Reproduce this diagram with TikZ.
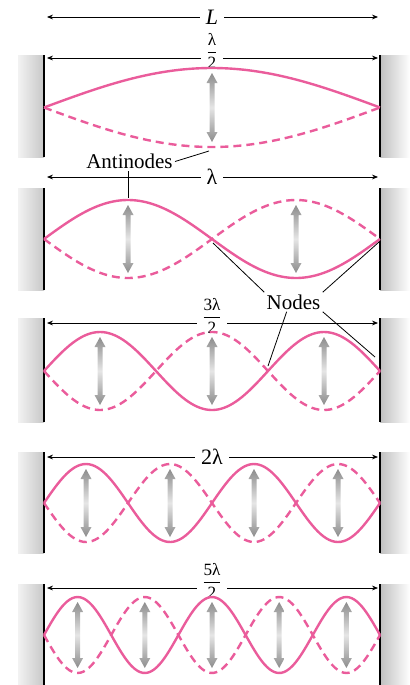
\documentclass[tikz,border=0pt]{standalone}
\usepackage{amsmath}
\usepackage{fontspec}
\setmainfont{Liberation Serif}
\usetikzlibrary{arrows.meta}
\definecolor{wavepink}{RGB}{234,92,155}

\begin{document}
\begin{tikzpicture}[x=0.5pt,y=-0.5pt,
  str/.style={wavepink, line width=1.2pt},
  strd/.style={str, dash pattern=on 4pt off 2.5pt},
  dim/.style={{Stealth[length=3pt,width=2.4pt]}-{Stealth[length=3pt,width=2.4pt]}, line width=0.4pt},
  dlab/.style={fill=white, inner xsep=3pt, inner ysep=0.5pt, font=\fontsize{11}{13}\selectfont},
  frac/.style={dlab, inner xsep=2pt, font=\fontsize{8.6}{10}\selectfont},
  lbl/.style={inner sep=1pt, font=\fontsize{10.5}{12}\selectfont},
  lead/.style={line width=0.4pt},
  amp/.style={top color=black!45, bottom color=black!45, middle color=black!10},
  wall/.style={line width=0.7pt}]
  \useasboundingbox (0,0) rectangle (410,685);
  % 两端固定墙（渐变灰）
  \foreach \n/\wt/\wb in {1/55/157, 2/188/290, 3/318/422, 4/452/553, 5/584/685}{
    \shade[left color=black!5, right color=black!22] (18,\wt) rectangle (44,\wb);
    \shade[left color=black!25, right color=white] (380,\wt) rectangle (410,\wb);
    \draw[wall] (44,\wt) -- (44,\wb);
    \draw[wall] (380,\wt) -- (380,\wb);
  }
  % 总长 L
  \coordinate (tl) at (47,17);
  \coordinate (tr) at (378,17);
  \draw[dim] (tl) -- (tr);
  \node[dlab] (lenL) at (212,17) {\textit{L}};
  % 各模式的尺寸线与标注
  \foreach \n/\yd/\off/\sty/\txt in {1/58/-7/frac/{$\dfrac{\text{λ}}{\text{2}}$}, 2/177/0/dlab/{λ},
      3/323/-7/frac/{$\dfrac{\text{3λ}}{\text{2}}$}, 4/457/0/dlab/{2λ},
      5/588/-7/frac/{$\dfrac{\text{5λ}}{\text{2}}$}}{
    \coordinate (dl\n) at (47,\yd);
    \coordinate (dr\n) at (378,\yd);
    \draw[dim] (dl\n) -- (dr\n);
    \node[\sty] (dlab\n) at (212,\yd+\off) {\txt};
  }
  % 驻波：实线与虚线，灰色双向箭头在波腹处
  \foreach \n/\yc/\A in {1/107.5/39.5, 2/239/39, 3/371/39, 4/503/39, 5/635/38}{
    \draw[str] plot[domain=44:380, samples=120, smooth] (\x, {\yc-\A*sin(\n*0.535714*(\x-44))});
    \draw[strd] plot[domain=44:380, samples=120, smooth] (\x, {\yc+\A*sin(\n*0.535714*(\x-44))});
    \foreach \k in {1,...,\n}{
      \pgfmathsetmacro{\xa}{44+168*(2*\k-1)/\n}
      \shade[amp] (\xa,{\yc-\A+5}) -- ++(5.5,10) -- ++(-3,0) -- ({\xa+2.5},{\yc+\A-15})
        -- ++(3,0) -- (\xa,{\yc+\A-5}) -- ++(-5.5,-10) -- ++(3,0)
        -- ({\xa-2.5},{\yc-\A+15}) -- ++(-3,0) -- cycle;
    }
  }
  % 标注：波腹
  \node[lbl] (antin) at (129.5,161.5) {Antinodes};
  \coordinate (ap1) at (209,151);
  \coordinate (ap2) at (128,198);
  \draw[lead] (antin.east) -- (ap1);
  \draw[lead] (antin.south -| ap2) -- (ap2);
  % 标注：波节
  \node[lbl] (nod) at (293.5,302) {Nodes};
  \coordinate (np1) at (213,243);
  \coordinate (np2) at (379,242);
  \coordinate (np3) at (268,366);
  \coordinate (np4) at (375,357);
  \draw[lead] (nod.north west) -- (np1);
  \draw[lead] (nod.north east) -- (np2);
  \draw[lead] (nod.235) -- (np3);
  \draw[lead] (nod.south east) -- (np4);
\end{tikzpicture}
\end{document}
